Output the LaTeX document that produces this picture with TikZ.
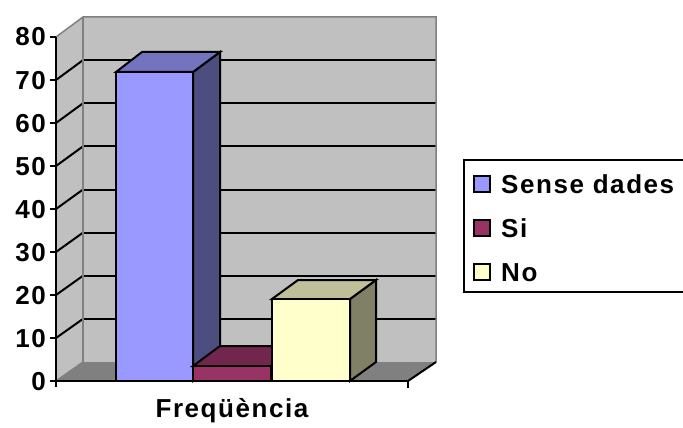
\documentclass[tikz,border=0pt]{standalone}
\usepackage{fontspec}
\setmainfont{Liberation Sans}
\newfontfamily\lblfont{Liberation Sans}[BoldFont={* Bold}, LetterSpace=6]
\definecolor{wallc}{HTML}{C0C0C0}
\definecolor{floorc}{HTML}{808080}
\definecolor{edgec}{HTML}{808080}
\definecolor{afront}{HTML}{9999FF}
\definecolor{atop}{HTML}{7373BF}
\definecolor{aside}{HTML}{4D4D80}
\definecolor{bfront}{HTML}{993366}
\definecolor{btop}{HTML}{73264D}
\definecolor{cfront}{HTML}{FFFFCC}
\definecolor{ctop}{HTML}{BFBF99}
\definecolor{cside}{HTML}{808066}
\tikzset{
  lbl/.style={font=\lblfont\bfseries\fontsize{26}{30}\selectfont, inner sep=0pt},
  blk/.style={draw=black, line width=2pt, line join=miter},
  grid/.style={draw=black, line width=2pt},
  wedge/.style={draw=edgec, line width=1.5pt},
  legsq/.style={draw=black, line width=1.5pt, minimum size=16pt, inner sep=0pt},
}
\begin{document}
\begin{tikzpicture}[x=1pt,y=-1pt]
\useasboundingbox (0,0) rectangle (683,428);
% walls
\fill[wallc] (56,37) -- (83,17) -- (83,362) -- (56,381) -- cycle;
\fill[wallc] (83,17) rectangle (436,362);
% gridlines
\foreach \k in {1,...,7}{
  \draw[grid] (83,{362-43.125*\k}) -- (436,{362-43.125*\k});
  \draw[grid] (56,{381-43*\k}) -- (83,{362-43.125*\k});
}
% floor
\fill[floorc] (56,381) -- (83,362) -- (436,362) -- (408,381) -- cycle;
\draw[wedge] (56,37) -- (83,17) -- (436,17) -- (436,362);
\draw[wedge] (83,17) -- (83,362);
\draw[wedge] (56,381) -- (83,362);
\draw[blk] (408,381) -- (436,362);
% bar Sense dades
\filldraw[blk, fill=aside] (193,72) -- (220,52) -- (220,362) -- (193,381) -- cycle;
\filldraw[blk, fill=atop] (116,72) -- (142,52) -- (220,52) -- (193,72) -- cycle;
\filldraw[blk, fill=afront] (116,72) rectangle (193,381);
% bar Si
\filldraw[blk, fill=btop] (193,366) -- (220,346) -- (298,346) -- (271,366) -- cycle;
\filldraw[blk, fill=bfront] (193,366) rectangle (271,381);
% bar No
\filldraw[blk, fill=cside] (350,299) -- (376,280) -- (376,362) -- (350,381) -- cycle;
\filldraw[blk, fill=ctop] (272,299) -- (298,280) -- (376,280) -- (350,299) -- cycle;
\filldraw[blk, fill=cfront] (272,299) rectangle (350,381);
% axes
\draw[blk] (56,37) -- (56,387);
\draw[blk] (50,381) -- (408,381) -- (408,388);
\foreach \k in {1,...,8}{
  \draw[blk] (50,{381-43*\k}) -- (56,{381-43*\k});
}
\foreach \k/\v in {0/0,1/10,2/20,3/30,4/40,5/50,6/60,7/70,8/80}{
  \node[lbl, anchor=base east] (y\v) at (46,{381-43*\k+9}) {\v};
}
\node[lbl, anchor=base] (xl) at (232,417) {Freqüència};
% legend
\draw[line width=1.5pt] (690,160) -- (464,160) -- (464,292) -- (690,292);
\node[legsq, fill=afront] (s1) at (482,184) {};
\node[legsq, fill=bfront] (s2) at (482,228) {};
\node[legsq, fill=cfront] (s3) at (482,272) {};
\node[lbl, anchor=base west] (t1) at (501,193) {Sense dades};
\node[lbl, anchor=base west] (t2) at (501,237) {Si};
\node[lbl, anchor=base west] (t3) at (501,281) {No};
\end{tikzpicture}
\end{document}
